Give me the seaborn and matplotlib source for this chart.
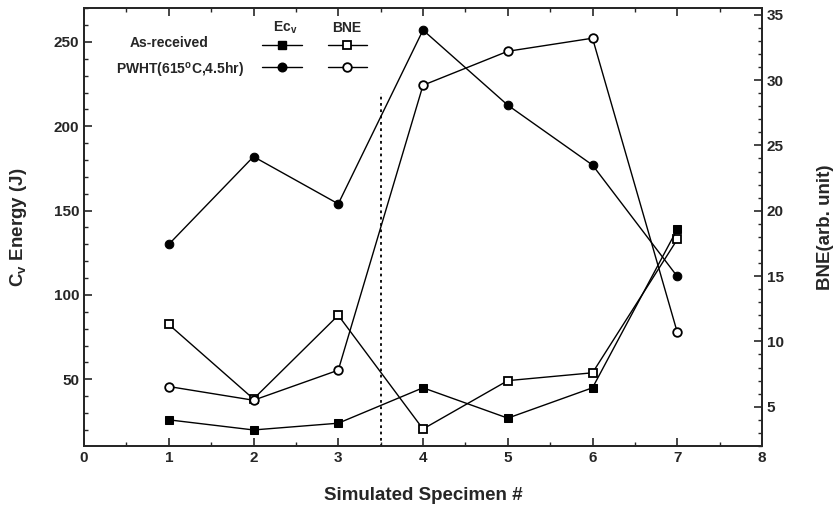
import matplotlib
matplotlib.use("Agg")
import matplotlib.pyplot as plt
import seaborn as sns
import pandas as pd
from matplotlib.ticker import MultipleLocator
from matplotlib.lines import Line2D

specimens = [1, 2, 3, 4, 5, 6, 7]
ec_as_received = [26, 20, 24, 45, 27, 45, 139]
ec_pwht = [130, 182, 154, 257, 212.5, 177, 111]
bne_as_received = [11.3, 5.6, 12.0, 3.3, 7.0, 7.6, 17.8]
bne_pwht = [6.55, 5.5, 7.8, 29.6, 32.2, 33.2, 10.7]
divider_x = 3.5
divider_top = 220

sns.set_style("ticks")
plt.rcParams['font.family'] = ['Liberation Sans', 'DejaVu Sans']
plt.rcParams['mathtext.fontset'] = 'custom'
plt.rcParams['mathtext.rm'] = 'Liberation Sans:bold'
plt.rcParams['mathtext.bf'] = 'Liberation Sans:bold'

fig = plt.figure(figsize=(8.35, 5.09), dpi=100)
ax = fig.add_axes([0.1006, 0.1238, 0.812, 0.8602])
ax2 = ax.twinx()

df = pd.DataFrame({"x": specimens, "ec_ar": ec_as_received, "ec_pw": ec_pwht,
                   "bne_ar": bne_as_received, "bne_pw": bne_pwht})

lw = 1.0
ms_sq = 5.2
ms_ci = 6.2
sns.lineplot(data=df, x="x", y="ec_ar", ax=ax, color="black", lw=lw,
             marker="s", markersize=ms_sq, markerfacecolor="black", markeredgecolor="black")
sns.lineplot(data=df, x="x", y="ec_pw", ax=ax, color="black", lw=lw,
             marker="o", markersize=ms_ci, markerfacecolor="black", markeredgecolor="black")
sns.lineplot(data=df, x="x", y="bne_ar", ax=ax2, color="black", lw=lw,
             marker="s", markersize=ms_sq, markerfacecolor="white", markeredgecolor="black", markeredgewidth=1.3)
sns.lineplot(data=df, x="x", y="bne_pw", ax=ax2, color="black", lw=lw,
             marker="o", markersize=ms_ci, markerfacecolor="white", markeredgecolor="black", markeredgewidth=1.3)

ax.plot([divider_x, divider_x], [10, divider_top], ls=(0, (1.5, 2)), color="black", lw=1.3)

ax.set_xlim(0, 8)
ax.set_ylim(10.5, 270)
ax2.set_ylim(2.0, 35.5)

ax.xaxis.set_major_locator(MultipleLocator(1))
ax.xaxis.set_minor_locator(MultipleLocator(0.5))
ax.yaxis.set_major_locator(MultipleLocator(50))
ax.yaxis.set_minor_locator(MultipleLocator(10))
ax2.yaxis.set_major_locator(MultipleLocator(5))
ax2.yaxis.set_minor_locator(MultipleLocator(1))

ax.tick_params(axis="x", which="both", direction="in", top=True, bottom=True)
ax.tick_params(axis="y", which="both", direction="in", left=True, right=False)
ax2.tick_params(axis="y", which="both", direction="in", right=True, left=False)
for a in (ax, ax2):
    a.tick_params(which="major", length=6, width=1.2, labelsize=11)
    a.tick_params(which="minor", length=3, width=1.0)
    for lab in a.get_xticklabels() + a.get_yticklabels():
        lab.set_fontweight("bold")
for s in ax.spines.values():
    s.set_linewidth(1.3)
for s in ax2.spines.values():
    s.set_linewidth(1.3)

ax.set_xlabel("Simulated Specimen #", fontsize=13.5, fontweight="bold", labelpad=16)
ax.set_ylabel("C$_\\mathregular{v}$ Energy (J)", fontsize=13.5, fontweight="bold", labelpad=18)
ax2.set_ylabel("BNE(arb. unit)", fontsize=13.5, fontweight="bold", labelpad=24)

# custom legend table
fs = 10
ax.text(0.125, 0.920, "As-received", transform=ax.transAxes, ha="center", va="center", fontsize=fs, fontweight="bold")
ax.text(0.1416, 0.858, "PWHT(615$^\\mathregular{o}$C,4.5hr)", transform=ax.transAxes, ha="center", va="center",
        fontsize=fs, fontweight="bold")
ax.text(0.2965, 0.955, "Ec$_\\mathregular{v}$", transform=ax.transAxes, ha="center", va="center", fontsize=fs,
        fontweight="bold")
ax.text(0.388, 0.955, "BNE", transform=ax.transAxes, ha="center", va="center", fontsize=fs, fontweight="bold")
rows = [(0.9155, "s", ms_sq), (0.865, "o", ms_ci)]
for y, m, ms in rows:
    ax.add_line(Line2D([0.2625, 0.3215], [y, y], transform=ax.transAxes, color="black", lw=lw))
    ax.add_line(Line2D([0.292], [y], transform=ax.transAxes, color="black", marker=m,
                       markersize=ms, markerfacecolor="black", markeredgecolor="black", ls="none"))
    ax.add_line(Line2D([0.36, 0.417], [y, y], transform=ax.transAxes, color="black", lw=lw))
    ax.add_line(Line2D([0.388], [y], transform=ax.transAxes, color="black", marker=m,
                       markersize=ms, markerfacecolor="white", markeredgecolor="black",
                       markeredgewidth=1.3, ls="none"))

ax.set_zorder(ax2.get_zorder() + 1)
ax.patch.set_visible(False)

fig.savefig("out.png", dpi=100)
